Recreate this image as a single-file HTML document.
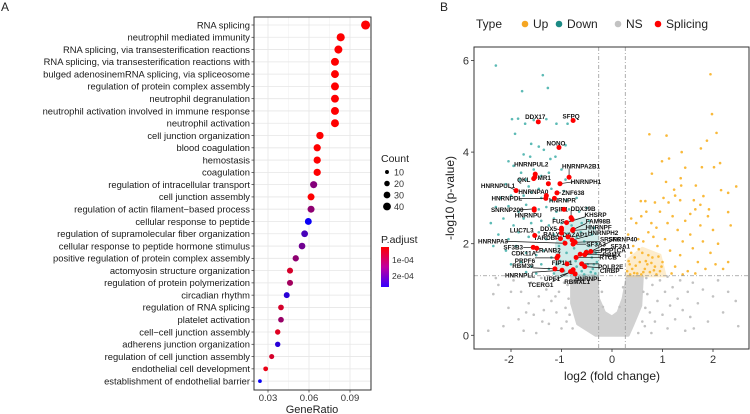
<!DOCTYPE html>
<html><head><meta charset="utf-8"><style>
html,body{margin:0;padding:0;background:#fff}
svg{display:block;font-family:"Liberation Sans",sans-serif}
</style></head><body>
<svg id="fig" width="750" height="414" viewBox="0 0 750 414">
<text x="1" y="11" font-size="12" fill="#222">A</text>
<text x="440" y="11" font-size="12" fill="#222">B</text>
<g id="pa"></g>
<g id="pb"></g>
</svg>
<script>
// ---------- Panel A data ----------
const terms=["RNA splicing","neutrophil mediated immunity","RNA splicing, via transesterification reactions","RNA splicing, via transesterification reactions with","bulged adenosinemRNA splicing, via spliceosome","regulation of protein complex assembly","neutrophil degranulation","neutrophil activation involved in immune response","neutrophil activation","cell junction organization","blood coagulation","hemostasis","coagulation","regulation of intracellular transport","cell junction assembly","regulation of actin filament\u2212based process","cellular response to peptide","regulation of supramolecular fiber organization","cellular response to peptide hormone stimulus","positive regulation of protein complex assembly","actomyosin structure organization","regulation of protein polymerization","circadian rhythm","regulation of RNA splicing","platelet activation","cell\u2212cell junction assembly","adherens junction organization","regulation of cell junction assembly","endothelial cell development","establishment of endothelial barrier"];
const geneRatio=[0.1014,0.0832,0.0815,0.079,0.079,0.079,0.079,0.079,0.079,0.068,0.066,0.066,0.066,0.0634,0.0615,0.0615,0.0595,0.0568,0.0549,0.0503,0.0461,0.0461,0.0437,0.0395,0.0395,0.0371,0.0371,0.0327,0.0283,0.0241];
const counts=[53,43,42,41,41,41,41,41,41,35,34,34,34,33,32,32,31,30,29,26,24,24,23,21,21,19,19,17,15,9];
const padj=[2e-5,2e-5,2e-5,2e-5,2e-5,2e-5,2e-5,2e-5,2e-5,2e-5,2e-5,2e-5,2e-5,1.4e-4,2e-5,1.3e-4,2.6e-4,2.0e-4,1.6e-4,1.3e-4,6e-5,1.1e-4,2.3e-4,6e-5,1.2e-4,5e-5,2.3e-4,6e-5,4e-5,2.6e-4];
const xTicksA=[0.03,0.06,0.09];
const countLegend=[10,20,30,40];
const padjTicks=[1e-4,2e-4];

// ---------- Panel B data ----------
const spliceNames=["DDX17","SFPQ","NONO","HNRNPUL2","","HNRNPA2B1","QKL","FMR1","HNRNPH1","HNRNPUL1","ZNF638","HNRNPA0","HNRNPDL","HNRNPR","SNRNP200","HNRNPU","PSIP1","DDX39B","","KHSRP","FUS","FAM98B","HNRNPF","DDX5","RALY","DAZAP1","HNRNPH2","LUC7L3","SRSF6","TARDBP","HNRNPA3","SF3A3","SNRNP40","SF3A1","SF3B3","CDK11A","ZRANB2","PPP1CA","RBMX","PRPF6","RTCB","RBM39","POLR2E","FIP1L1","CIRBP","HNRNPLL","UPF1","HNRNPL","TCERG1","RBMXL1"];
const spliceX=[-1.46,-0.77,-1.05,-1.52,-1.53,-0.85,-1.55,-1.26,-1.03,-1.90,-1.09,-1.30,-1.31,-1.14,-1.54,-1.54,-0.95,-0.81,-0.79,-0.90,-1.0,-0.77,-0.78,-1.0,-1.0,-0.87,-0.79,-1.53,-0.73,-1.02,-0.93,-0.77,-0.42,-0.51,-1.56,-1.49,-1.07,-0.63,-0.54,-1.09,-0.71,-1.13,-0.60,-0.89,-0.54,-0.99,-0.79,-0.77,-0.82,-0.73];
const spliceY=[4.66,4.69,4.10,3.52,3.45,3.45,3.42,3.31,3.31,3.16,3.11,3.05,2.99,2.99,2.76,2.73,2.75,2.57,2.53,2.46,2.34,2.31,2.29,2.30,2.23,2.15,2.08,2.18,2.03,2.11,2.01,1.99,1.83,1.81,1.92,1.90,1.73,1.77,1.76,1.69,1.70,1.45,1.56,1.56,1.50,1.42,1.39,1.43,1.39,1.34];
const downPts=[[-2.30,5.89],[-1.37,5.68],[-1.78,5.33],[-1.27,5.40],[-1.98,4.72],[-1.86,4.73],[-1.72,4.62],[-1.55,4.70],[-1.30,4.72],[-1.10,4.62],[-0.88,4.62],[-1.92,4.40],[-1.60,4.18],[-1.45,4.12],[-1.75,3.95],[-1.62,3.90],[-1.35,4.05],[-1.22,3.85],[-2.05,3.80],[-1.95,3.70],[-1.12,3.90],[-0.92,4.15],[-1.80,3.55],[-1.70,3.40],[-1.55,3.62],[-1.40,3.48],[-1.25,3.55],[-1.00,3.62],[-0.92,3.40],[-1.83,3.40],[-2.10,3.30],[-1.65,3.25],[-1.45,3.20],[-1.20,3.20],[-0.95,3.15],[-2.20,3.00],[-2.00,3.05],[-1.75,3.05],[-1.60,3.12],[-1.40,3.00],[-1.20,2.95],[-0.90,2.95],[-0.70,3.00],[-2.30,2.80],[-2.05,2.82],[-1.85,2.70],[-1.70,2.85],[-1.45,2.75],[-1.30,2.80],[-1.10,2.70],[-0.85,2.75],[-0.65,2.70],[-0.50,2.78],[-2.40,2.45],[-2.15,2.55],[-1.95,2.40],[-1.75,2.55],[-1.60,2.45],[-1.40,2.50],[-1.25,2.40],[-1.15,2.55],[-1.00,2.45],[-0.80,2.40],[-0.60,2.45],[-0.45,2.50],[-0.35,2.35],[-2.25,2.20],[-2.05,2.10],[-1.85,2.25],[-1.65,2.15],[-1.45,2.25],[-1.30,2.10],[-1.15,2.20],[-0.95,2.05],[-0.70,2.15],[-0.55,2.05],[-0.40,2.20],[-0.30,2.00],[-2.35,1.95],[-2.10,1.85],[-1.90,1.95],[-1.70,1.80],[-1.50,1.75],[-1.35,1.85],[-1.20,1.70],[-1.05,1.95],[-0.90,1.80],[-0.75,1.90],[-0.65,1.75],[-0.50,1.85],[-0.40,1.70],[-0.32,1.80],[-2.00,1.55],[-1.80,1.60],[-1.60,1.50],[-1.40,1.55],[-1.25,1.45],[-1.10,1.55],[-0.95,1.40],[-0.85,1.60],[-0.70,1.50],[-0.60,1.40],[-0.48,1.55],[-0.38,1.45],[-0.30,1.60],[-1.70,1.38],[-1.50,1.35],[-1.15,1.35],[-0.80,1.35],[-0.55,1.33],[-0.42,1.38],[-0.33,1.35],[-0.62,2.25],[-0.88,2.22],[-0.72,1.62],[-0.45,1.95],[-0.58,1.58],[-0.36,1.55],[-0.92,1.55],[-1.02,1.62]];
const upPts=[[1.95,5.70],[1.98,4.83],[2.07,4.42],[0.74,4.39],[1.08,4.36],[1.88,4.25],[1.76,4.08],[1.38,4.0],[0.99,3.80],[1.13,3.86],[2.14,3.76],[0.79,3.53],[1.45,3.66],[1.78,3.67],[2.02,3.67],[1.07,3.35],[1.36,3.43],[1.37,3.27],[1.66,3.27],[1.23,3.18],[2.16,3.17],[2.30,3.11],[2.46,3.25],[1.81,3.04],[0.57,2.93],[0.66,2.93],[2.30,2.69],[0.30,1.40],[0.35,1.55],[0.40,1.45],[0.45,1.70],[0.50,1.35],[0.55,1.60],[0.60,1.80],[0.65,1.45],[0.70,1.55],[0.75,1.38],[0.80,1.70],[0.85,1.50],[0.90,1.95],[0.95,1.40],[1.00,1.60],[0.42,1.95],[0.52,2.10],[0.62,2.05],[0.72,2.25],[0.82,2.15],[0.32,2.20],[0.38,2.55],[0.48,2.45],[0.58,2.60],[0.68,2.70],[0.78,2.45],[0.88,2.35],[0.95,2.70],[1.05,2.10],[1.10,2.45],[1.15,1.85],[1.20,2.60],[1.25,1.50],[1.30,2.30],[1.35,1.75],[1.40,2.05],[1.45,2.50],[1.50,1.40],[1.55,2.20],[1.60,1.90],[1.65,2.75],[1.70,1.60],[1.75,2.40],[1.80,2.05],[1.85,1.45],[1.90,2.60],[1.95,1.80],[2.00,2.30],[2.05,1.55],[2.10,2.00],[2.20,1.45],[2.30,1.60],[2.35,2.40],[1.12,2.90],[1.35,2.95],[1.55,2.65],[1.75,2.85],[0.85,2.90],[1.02,3.00],[1.25,3.05],[1.62,2.95],[1.92,2.75],[0.36,1.33],[0.58,1.33],[0.88,1.33],[1.18,1.35],[1.40,1.33],[1.65,1.35],[0.33,1.62],[0.47,1.52],[0.62,1.38],[0.72,1.75],[0.38,1.80],[0.53,1.88],[0.78,1.58],[0.92,1.72],[0.44,1.36],[0.67,1.62],[0.83,1.42],[0.98,1.50]];
const nsPts=[[-2.45,0.1],[-2.35,0.9],[-2.25,1.1],[-2.15,0.2],[-2.05,0.6],[-1.95,1.2],[-1.85,0.35],[-1.8,0.95],[-1.75,0.1],[-1.65,0.7],[-1.6,1.15],[-1.55,0.45],[-1.5,0.05],[-1.45,0.85],[-1.4,1.25],[-1.35,0.55],[-1.3,1.0],[-1.25,0.25],[-1.2,0.75],[-1.15,1.2],[-1.1,0.5],[-1.05,0.95],[-1.0,0.15],[-0.95,1.15],[-0.92,0.6],[-2.3,1.25],[-2.0,0.95],[-1.7,0.5],[-1.38,0.3],[-1.12,0.85],[0.65,0.2],[0.7,0.9],[0.75,0.5],[0.8,1.1],[0.85,0.3],[0.9,0.75],[0.95,1.2],[1.0,0.45],[1.05,0.95],[1.1,0.15],[1.15,0.65],[1.2,1.05],[1.25,0.35],[1.3,0.8],[1.35,1.2],[1.4,0.55],[1.45,0.1],[1.5,0.95],[1.55,0.4],[1.6,1.15],[1.7,0.7],[1.8,1.0],[1.9,0.3],[2.0,0.85],[2.1,1.2],[2.2,0.5],[2.3,0.95],[2.45,0.75],[2.5,0.2],[0.68,1.25],[0.78,0.05],[1.1,1.28],[1.62,0.15],[-0.88,1.1],[-0.86,0.8],[-0.84,0.45],[-0.78,0.15],[-0.9,0.3],[0.62,0.95],[0.66,0.6],[0.6,0.3],[0.52,0.05],[-0.2,0.95],[0.22,1.05],[-0.18,0.62],[0.15,0.62]];
const nsDense=[[-0.8,1.3],[-0.3,1.3],[-0.27,0.8],[-0.15,0.5],[0.0,0.4],[0.12,0.5],[0.22,0.8],[0.3,1.28],[0.6,1.28],[0.57,0.65],[0.42,0.25],[0.32,0.0],[-0.32,0.0],[-0.68,0.25],[-0.8,0.7]];
const downDense=[[-1.1,1.3],[-0.28,1.3],[-0.28,2.2],[-0.55,2.55],[-0.85,2.5],[-1.1,2.0]];
const upDense=[[0.3,1.3],[1.05,1.3],[0.95,1.75],[0.6,1.9],[0.32,1.65]];
const xTicksB=[-2,-1,0,1,2];
const yTicksB=[0,2,4,6];
const fcCut=0.263, pCut=1.3;
// label offsets in px (layout only)
const labOff=[[-3,-5],[-2,-4],[-3,-4],[-4,-10],null,[12,-11],[-10,1],[-6,-6],[26,-2],[-18,-5],[16,0],[-13,-4],[-39,0],[8,2],[-27,1],[-6,5],[-5,0],[12,-9],null,[29,-8],[-3,-7],[25,-8],[26,-3],[-13,-1],[-10,1],[7,-2],[31,-7],[-13,-5],[35,-3],[-14,-1],[-72,-2],[23,0],[32,-12],[34,-6],[-20,0],[-13,5],[-10,-6],[33,-4],[27,0],[-32,3],[32,0],[-32,-3],[29,3],[-5,-1],[25,4],[-42,5],[-20,7],[15,9],[-30,13],[2,8]];

const NS='http://www.w3.org/2000/svg';
function mk(parent,tag,attrs,text){const e=document.createElementNS(NS,tag);for(const k in attrs)e.setAttribute(k,attrs[k]);if(text!==undefined)e.textContent=text;parent.appendChild(e);return e;}

// ---------- Panel A ----------
const pa=document.getElementById('pa');
const A={l:254,r:371,t:17,b:390};
const xA=v=>268+(v-0.03)*(41/0.03);
const yA=i=>25+i*12.28;
const pMin=1.9e-5,pMax=2.69e-4;
function pcol(p){let t=(p-pMin)/(pMax-pMin);t=Math.max(0,Math.min(1,t));return `rgb(${Math.round(255*(1-t))},0,${Math.round(255*t)})`;}
const rA=c=>0.62*Math.sqrt(c);
let bg=mk(pa,'rect',{x:A.l,y:A.t,width:A.r-A.l,height:A.b-A.t,fill:'#fff',stroke:'none'});


[0.045,0.075,0.105].forEach(v=>{const g=mk(pa,'line',{x1:xA(v),x2:xA(v),y1:A.t,y2:A.b,stroke:'#f2f2f2','stroke-width':0.6});});
xTicksA.forEach(v=>{const g=mk(pa,'line',{x1:xA(v),x2:xA(v),y1:A.t,y2:A.b,stroke:'#e6e6e6','stroke-width':0.8});});
terms.forEach((t,i)=>{const g=mk(pa,'line',{x1:A.l,x2:A.r,y1:yA(i),y2:yA(i),stroke:'#e6e6e6','stroke-width':0.8});});
terms.forEach((t,i)=>{
  const tx=mk(pa,'text',{x:250,y:yA(i)+3.3,'font-size':9.4,'text-anchor':'end',fill:'#1a1a1a'},t);
  
  
  const tk=mk(pa,'line',{x1:251.5,x2:A.l,y1:yA(i),y2:yA(i),stroke:'#333','stroke-width':0.7});
  
  
  const c=mk(pa,'circle',{cx:xA(geneRatio[i]),cy:yA(i),r:rA(counts[i]),fill:pcol(padj[i])});
  
  
});
let bx=mk(pa,'rect',{x:A.l,y:A.t,width:A.r-A.l,height:A.b-A.t,fill:'none',stroke:'#333','stroke-width':1});


xTicksA.forEach(v=>{
  const tk=mk(pa,'line',{x1:xA(v),x2:xA(v),y1:A.b,y2:A.b+2.5,stroke:'#333','stroke-width':0.7});
  
  
  const tl=mk(pa,'text',{x:xA(v),y:401,'font-size':9.5,'text-anchor':'middle',fill:'#333'},v.toFixed(2));
  
  
});
let gt=mk(pa,'text',{x:312,y:413,'font-size':11,'text-anchor':'middle',fill:'#222'},'GeneRatio');


let ct=mk(pa,'text',{x:381,y:162,'font-size':10.5,fill:'#222'},'Count');


countLegend.forEach((c,i)=>{
  const y=172+i*11.5;
  const d=mk(pa,'circle',{cx:387,cy:y,r:rA(c),fill:'#000'});
  
  
  const l=mk(pa,'text',{x:394,y:y+3.3,'font-size':9,fill:'#333'},String(c));
  
  
});
let pt=mk(pa,'text',{x:381,y:243,'font-size':10.5,fill:'#222'},'P.adjust');


const defs=mk(document.getElementById('fig'),'defs',{});
const lg=mk(defs,'linearGradient',{id:'pg',x1:0,y1:0,x2:0,y2:1});
mk(lg,'stop',{offset:'0','stop-color':'#ff0000'});
mk(lg,'stop',{offset:'0.5','stop-color':'#c000a0'});
mk(lg,'stop',{offset:'1','stop-color':'#3300ff'});
const gy=p=>247+(p-pMin)/(pMax-pMin)*40;
let gb=mk(pa,'rect',{x:381,y:247,width:8,height:40,fill:'url(#pg)'});


padjTicks.forEach(p=>{
  const l=mk(pa,'text',{x:392,y:gy(p)+3,'font-size':8.5,fill:'#333'},p===1e-4?'1e-04':'2e-04');
  
  
});

// ---------- Panel B ----------
const pb=document.getElementById('pb');
const B={l:474,r:749,t:47,b:349};
const xB=v=>612+v*50.5;
const yB=v=>335.3-v*45.8;
const poly=(pts,fill,op,name)=>{const e=mk(pb,'polygon',{points:pts.map(p=>xB(p[0])+','+yB(p[1])).join(' '),fill:fill,opacity:op,stroke:fill,'stroke-width':3,'stroke-linejoin':'round'});};
poly(nsDense,'#cdcdcd',0.9,'ns-density');
poly(downDense,'#8fd0cc',0.4,'down-density');
poly(upDense,'#fac35a',0.3,'up-density');
nsPts.forEach(p=>{const c=mk(pb,'circle',{cx:xB(p[0]),cy:yB(p[1]),r:1.3,fill:'#c2c2c2'});});
downPts.forEach(p=>{const c=mk(pb,'circle',{cx:xB(p[0]),cy:yB(p[1]),r:1.3,fill:'#5cbab5'});});
upPts.forEach(p=>{const c=mk(pb,'circle',{cx:xB(p[0]),cy:yB(p[1]),r:1.3,fill:'#f9b93a'});});
[-fcCut,fcCut].forEach(v=>{const l=mk(pb,'line',{x1:xB(v),x2:xB(v),y1:B.t,y2:B.b,stroke:'#999','stroke-width':0.8,'stroke-dasharray':'4 2 1 2'});});
let hl=mk(pb,'line',{x1:B.l,x2:B.r,y1:yB(pCut),y2:yB(pCut),stroke:'#999','stroke-width':0.8,'stroke-dasharray':'4 2 1 2'});


spliceX.forEach((x,i)=>{
  const px=xB(x),py=yB(spliceY[i]);
  const o=labOff[i];
  if(o&&spliceNames[i]){
    const lx=px+o[0],ly=py+o[1];
    if(Math.hypot(o[0],o[1])>11){
      const ln=mk(pb,'line',{x1:px,y1:py,x2:lx+(o[0]>0?-Math.min(12,spliceNames[i].length*2):Math.min(12,spliceNames[i].length*2)),y2:ly+(o[1]>2?-3:(o[1]<-2?2:0)),stroke:'#111','stroke-width':0.7});
      
      
    }
    const t=mk(pb,'text',{x:lx,y:ly+2.2,'font-size':6.3,'text-anchor':'middle',fill:'#111','font-weight':'bold'},spliceNames[i]);
    
    
  }
});
spliceX.forEach((x,i)=>{const c=mk(pb,'circle',{cx:xB(x),cy:yB(spliceY[i]),r:2.5,fill:'#ff0000'});});
let bb=mk(pb,'rect',{x:B.l,y:B.t,width:B.r-B.l,height:B.b-B.t,fill:'none',stroke:'#333','stroke-width':1});


xTicksB.forEach(v=>{
  const tk=mk(pb,'line',{x1:xB(v),x2:xB(v),y1:B.b,y2:B.b+3,stroke:'#333','stroke-width':0.8});
  
  
  const t=mk(pb,'text',{x:xB(v)-(v<0?2:0),y:363,'font-size':11,'text-anchor':'middle',fill:'#333'},String(v));
  
  
});
yTicksB.forEach(v=>{
  const tk=mk(pb,'line',{x1:B.l-3,x2:B.l,y1:yB(v),y2:yB(v),stroke:'#333','stroke-width':0.8});
  
  
  const t=mk(pb,'text',{x:469,y:yB(v)+4,'font-size':11,'text-anchor':'end',fill:'#333'},String(v));
  
  
});
let xt=mk(pb,'text',{x:612,y:380,'font-size':12,'text-anchor':'middle',fill:'#222'},'log2 (fold change)');


let yt=mk(pb,'text',{x:0,y:0,'font-size':12,'text-anchor':'middle',fill:'#222',transform:'translate(454,198) rotate(-90)'},'-log10 (p-value)');


let lt=mk(pb,'text',{x:476,y:28,'font-size':12,fill:'#222'},'Type');


[['Up','#f5a623',525],['Down','#1b8a84',559],['NS','#c2c2c2',618],['Splicing','#ff0000',658]].forEach(e=>{
  const d=mk(pb,'circle',{cx:e[2],cy:24,r:3.3,fill:e[1]});
  
  
  const t=mk(pb,'text',{x:e[2]+8,y:28,'font-size':12,fill:'#222'},e[0]);
  
  
});
</script>
</body></html>
